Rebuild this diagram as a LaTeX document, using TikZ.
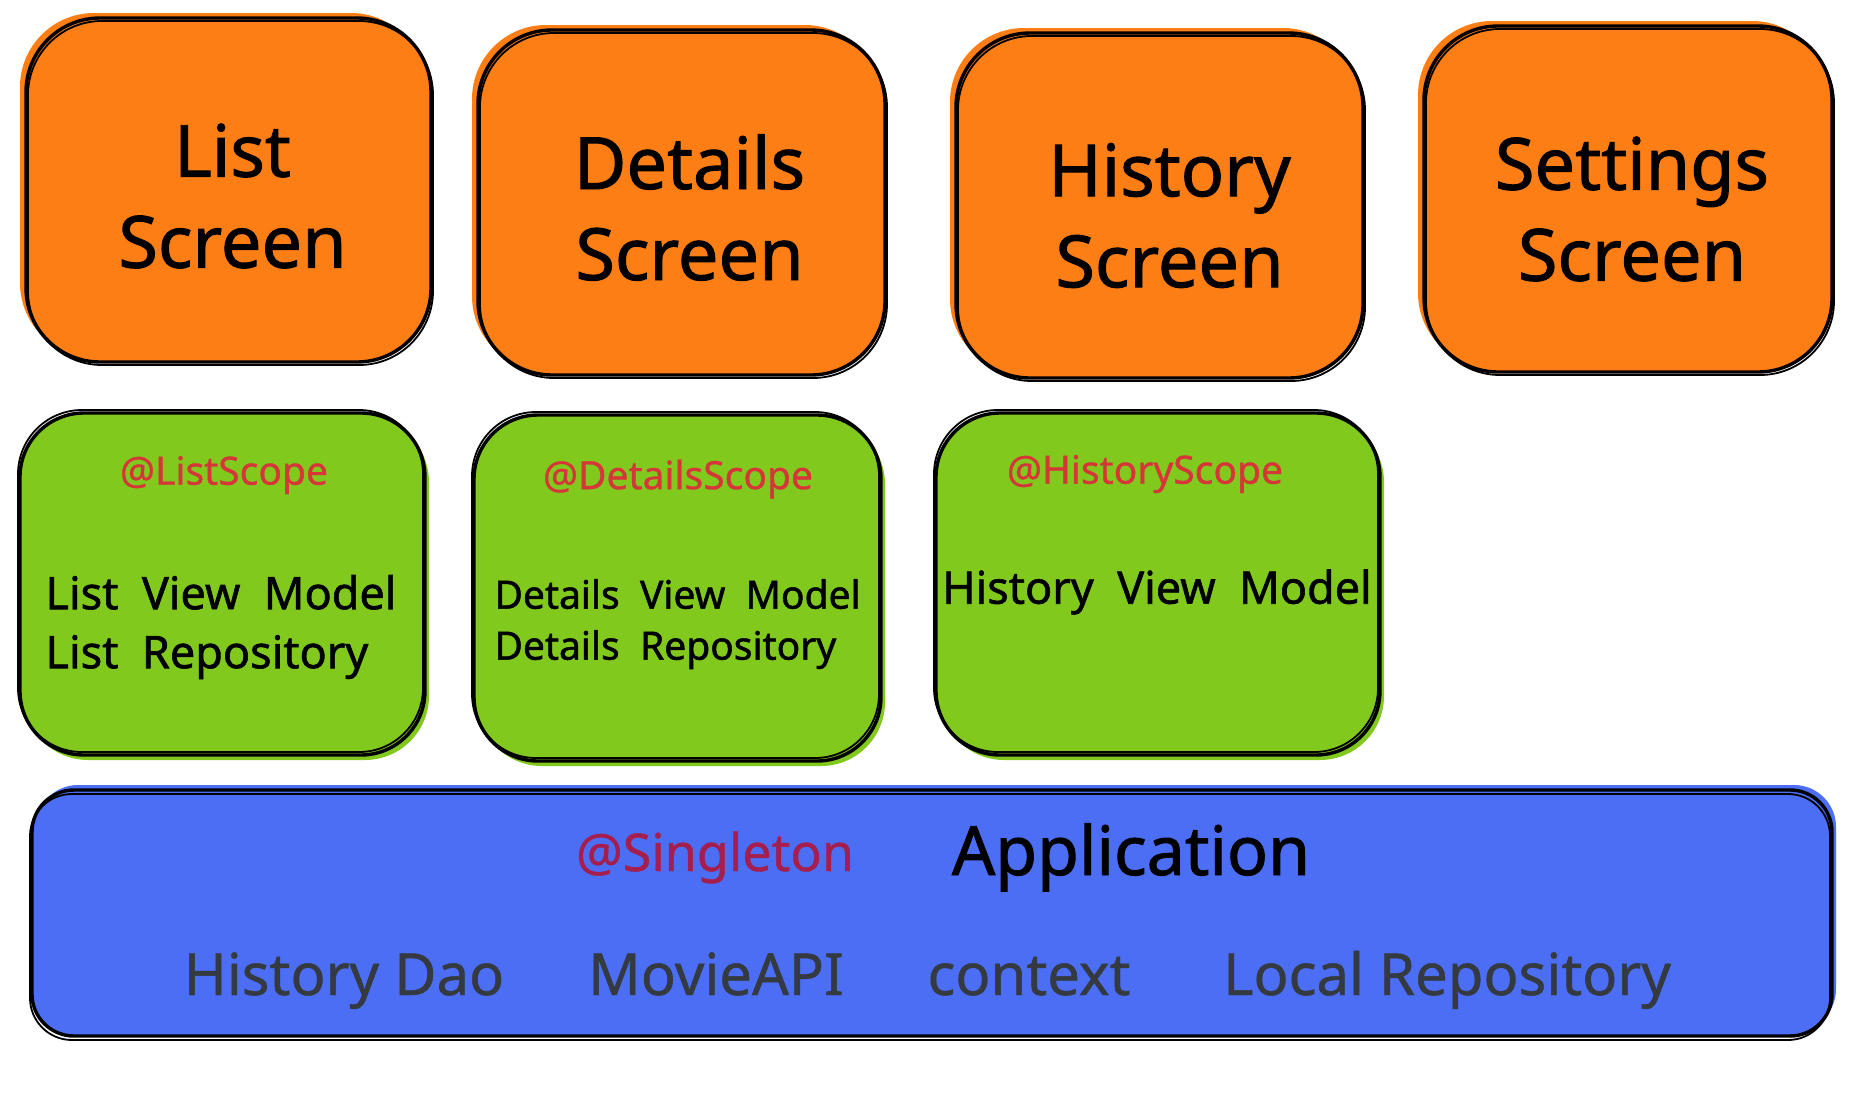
\documentclass[tikz,border=0pt]{standalone}
\usepackage{fontspec}
\setmainfont{Noto Sans}
\newfontfamily\sketchfont{Noto Sans}[FakeBold=1.3]
\newfontfamily\lightsketch{Noto Sans}[FakeBold=0.8]
\usetikzlibrary{calc}

\definecolor{scrfill}{HTML}{FD7E14}
\definecolor{vmfill}{HTML}{82C91E}
\definecolor{appfill}{HTML}{4C6EF5}
\definecolor{scopered}{HTML}{D6363A}
\definecolor{singlered}{HTML}{A61E4D}
\definecolor{deptext}{HTML}{343A40}

\tikzset{
  % rounded box with a second, slightly offset stroke for a sketched look
  sketchbox/.style={rounded corners=#1, draw=black, line width=3.4pt,
    line join=round, inner sep=0pt, align=center},
  screen/.style={sketchbox=74pt, fill=scrfill,
    minimum width=405pt, minimum height=344pt,
    preaction={fill=scrfill, transform canvas={shift={(-6pt,5pt)}}},
    postaction={draw=black, line width=1.8pt, transform canvas={shift={(2pt,-3pt)}}}},
  title/.style={align=center, inner sep=0pt, font=\sketchfont\fontsize{72}{91}\selectfont},
  vmbox/.style={sketchbox=64pt, fill=vmfill,
    minimum width=405pt, minimum height=342pt,
    preaction={fill=vmfill, transform canvas={shift={(4pt,-5pt)}}},
    postaction={draw=black, line width=1.8pt, transform canvas={shift={(-2pt,3pt)}}}},
  appbox/.style={sketchbox=42pt, fill=appfill,
    minimum width=1800pt, minimum height=246pt,
    preaction={fill=appfill, transform canvas={shift={(4pt,5pt)}}},
    postaction={draw=black, line width=1.8pt, transform canvas={shift={(-2pt,-4pt)}}}},
  scope/.style={text=scopered, font=\lightsketch\fontsize{39}{46}\selectfont, inner sep=0pt},
  vmtext/.style={align=left, anchor=west, inner sep=0pt},
  deps/.style={text=deptext, font=\lightsketch\fontsize{58}{70}\selectfont, anchor=base, inner sep=0pt},
}

\begin{document}
\begin{tikzpicture}[x=1pt, y=-1pt]
\useasboundingbox (0,0) rectangle (1850,1103);

% screens
\node[screen] (listscr)     at (228.5,190)  {};
\node[screen, minimum width=407pt, minimum height=345pt] (detailsscr)  at (681.5,202.5) {};
\node[screen, minimum width=407pt, minimum height=345pt] (historyscr)  at (1159.5,205.5) {};
\node[screen, minimum width=408pt, minimum height=346pt] (settingsscr) at (1628,199)   {};

\node[title] (listtitle)     at ($(listscr.center)+(4,6)$)      {List\\Screen};
\node[title] (detailstitle)  at ($(detailsscr.center)+(8,5)$)   {Details\\Screen};
\node[title] (historytitle)  at ($(historyscr.center)+(10,10)$) {History\\Screen};
\node[title] (settingstitle) at ($(settingsscr.center)+(4,10)$) {Settings\\Screen};

% scoped view models
\node[vmbox] (listvm) at (222.5,584) {};
\node[vmbox, minimum width=407pt, minimum height=346pt] (detailsvm) at (677.5,588) {};
\node[vmbox, minimum width=444pt] (historyvm) at (1158,584) {};

\node[scope] (listscope)    at ($(listvm.center)+(1.5,-109)$)   {@ListScope};
\node[scope] (detailsscope) at ($(detailsvm.center)+(0.5,-109)$) {@DetailsScope};
\node[scope] (historyscope) at ($(historyvm.center)+(-13,-110)$) {@HistoryScope};

\node[vmtext, font=\sketchfont\fontsize{45}{59}\selectfont] (listdeps)
  at ($(listvm.west)+(27,43)$) {List\ \ View\ \ Model\\List\ \ Repository};
\node[vmtext, font=\sketchfont\fontsize{39}{51}\selectfont] (detailsdeps)
  at ($(detailsvm.west)+(22,36)$) {Details\ \ View\ \ Model\\Details\ \ Repository};
\node[font=\sketchfont\fontsize{45}{59}\selectfont, inner sep=0pt] (historydeps)
  at ($(historyvm.center)+(-1,8)$) {History\ \ View\ \ Model};

% application singleton
\node[appbox] (app) at (932,913) {};
\node[anchor=base, text=singlered, font=\lightsketch\fontsize{52}{60}\selectfont, inner sep=0pt]
  (singleton) at ($(app.center)+(-217,-42)$) {@Singleton};
\node[anchor=base, font=\sketchfont\fontsize{68}{80}\selectfont, inner sep=0pt]
  (appname) at ($(app.center)+(199,-38)$) {Application};

\node[deps] (historydao) at ($(app.center)+(-588,82)$) {History Dao};
\node[deps] (movieapi)   at ($(app.center)+(-216,82)$) {MovieAPI};
\node[deps] (context)    at ($(app.center)+(97,82)$)   {context};
\node[deps] (localrepo)  at ($(app.center)+(515,82)$)  {Local Repository};
\end{tikzpicture}
\end{document}
